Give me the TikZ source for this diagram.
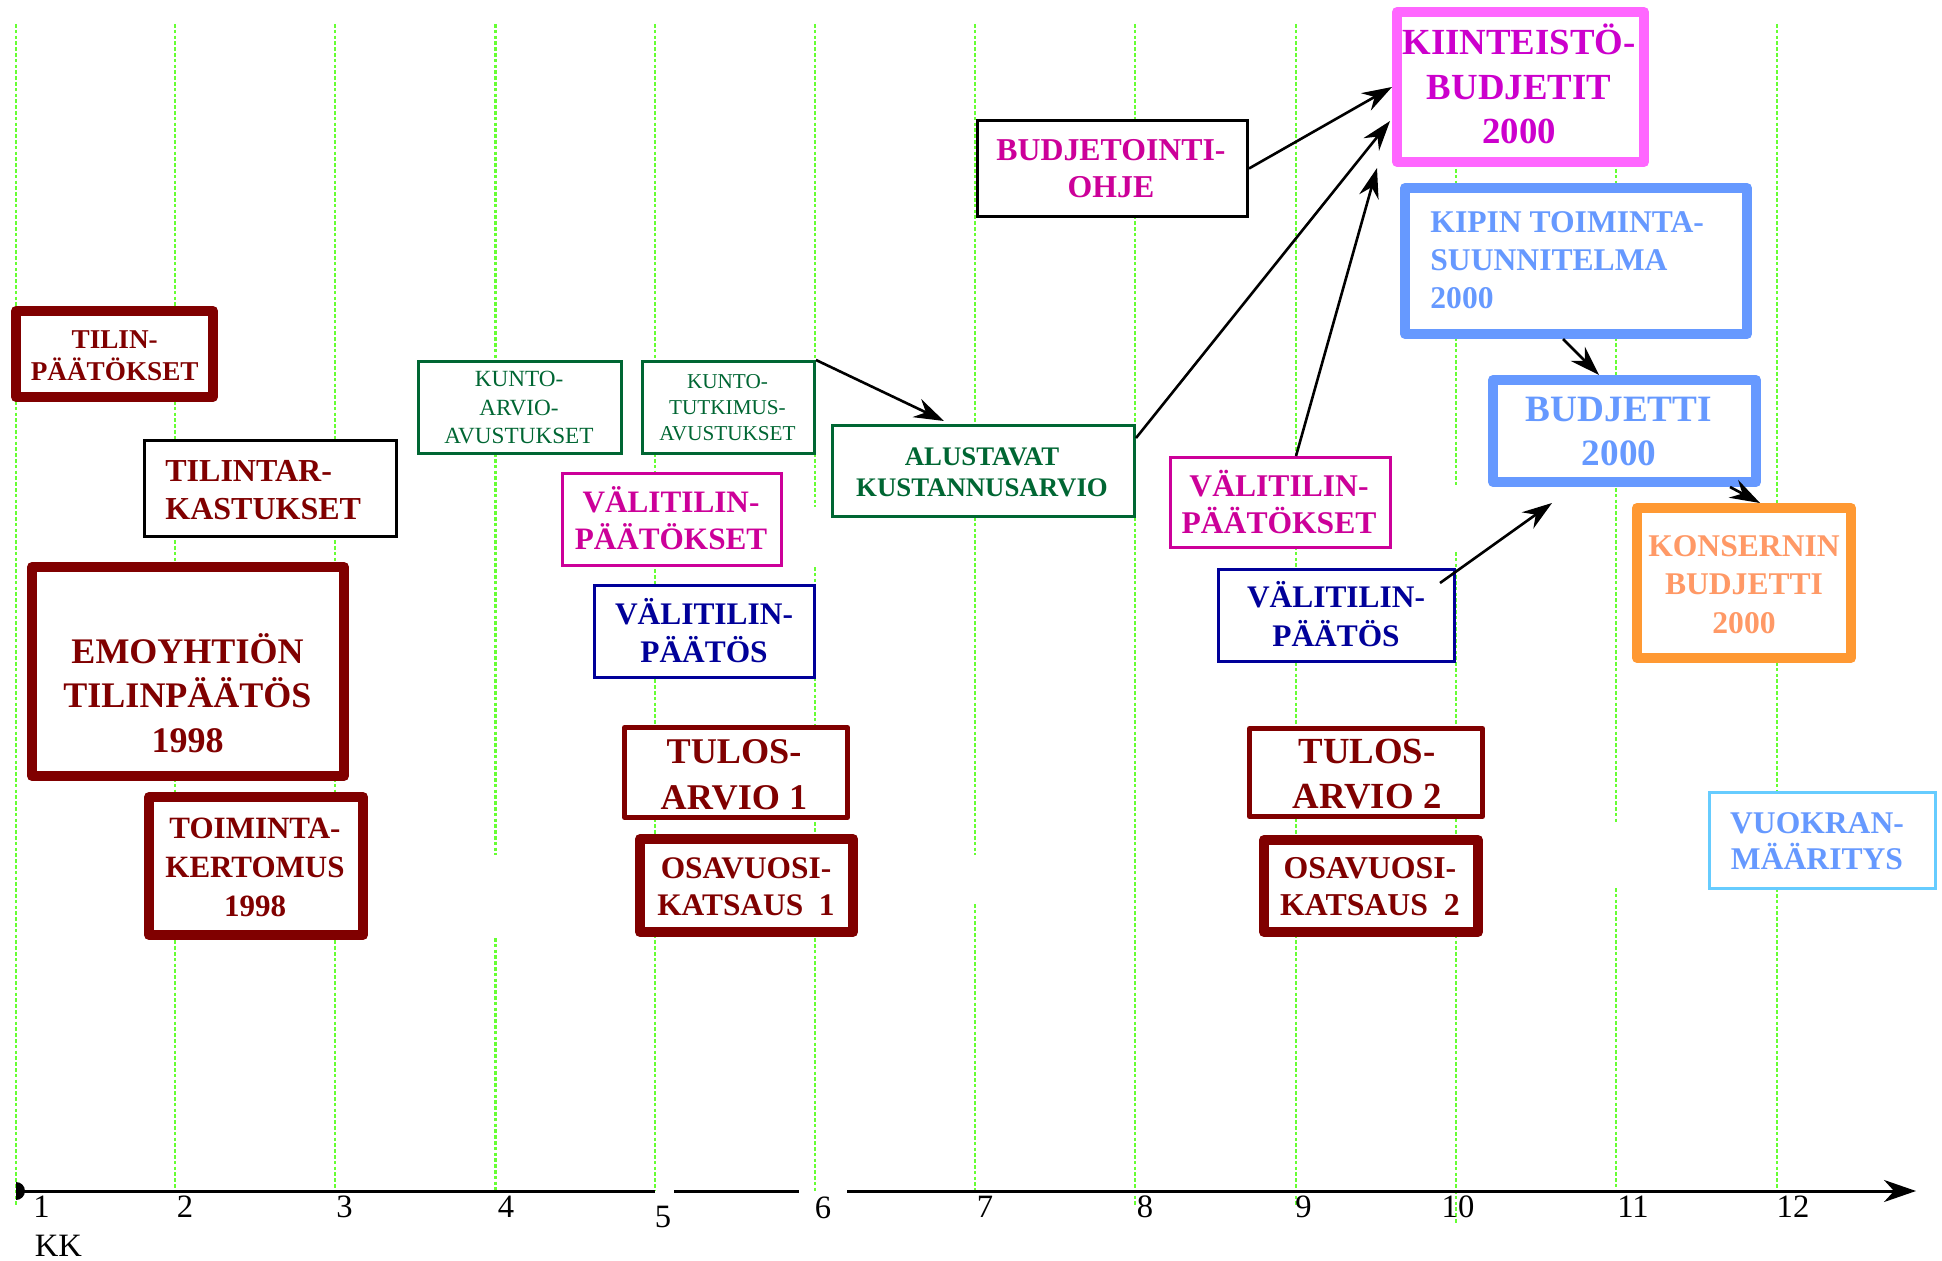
\documentclass[tikz,border=0pt]{standalone}
\usepackage{fontspec}
\setmainfont{Liberation Serif}
\usetikzlibrary{arrows.meta}

\definecolor{dred}{HTML}{800000}
\definecolor{kgreen}{HTML}{006633}
\definecolor{mag}{HTML}{CC0099}
\definecolor{navyb}{HTML}{000099}
\definecolor{pinkb}{HTML}{FF66FF}
\definecolor{pinkt}{HTML}{CC00CC}
\definecolor{blueb}{HTML}{6699FF}
\definecolor{orangeb}{HTML}{FF9933}
\definecolor{oranget}{HTML}{FF9966}
\definecolor{lblue}{HTML}{66CCFF}
\definecolor{gridg}{HTML}{66FF33}

\newcommand\fsz[2]{\fontsize{#1pt}{#2pt}\selectfont}

\begin{document}
\begin{tikzpicture}[x=0.5pt, y=-0.5pt,
  gridline/.style={draw=gridg, line width=1.2pt, dash pattern=on 1.8pt off 1.1pt},
  bx/.style={rectangle, fill=white, inner sep=0pt},
  thickbox/.style={bx, line width=5pt, line join=round},
  thinbox/.style={bx, line width=1.3pt},
  medbox/.style={bx, line width=2.5pt, line join=round},
  txt/.style={inner sep=0pt, align=center, anchor=base, font=\bfseries},
  ltxt/.style={inner sep=0pt, align=left, anchor=base west, font=\bfseries},
  num/.style={inner sep=0pt, anchor=base, font=\fsz{16.3}{18}},
  axisline/.style={line width=1.5pt, draw=black},
  arr/.style={draw=black, line width=1.3pt, -{Stealth[length=15pt, width=10pt, inset=5pt]}}
]
\useasboundingbox (0,0) rectangle (1942,1261);
\fill[white] (0,0) rectangle (1942,1261);

% month grid
\foreach \x/\b in {16/1207, 175/1191, 335/1191, 655/1191, 1135/1207, 1296/1207, 1777/1191}
  \draw[gridline] (\x,24) -- (\x,\b);
\draw[gridline] (495.5,24) -- (495.5,855);
\draw[gridline] (495.5,938) -- (495.5,1191);
\draw[gridline] (815,24) -- (815,507);
\draw[gridline] (815,567) -- (815,1191);
\draw[gridline] (975,24) -- (975,855);
\draw[gridline] (975,904) -- (975,1191);
\draw[gridline] (1456,24) -- (1456,485);
\draw[gridline] (1456,552) -- (1456,1223);
\draw[gridline] (1616,24) -- (1616,822);
\draw[gridline] (1616,888) -- (1616,1191);

% time axis
\fill (16,1182) arc[start angle=-90, end angle=90, radius=9] -- cycle;
\draw[axisline] (16,1191) -- (655,1191);
\draw[axisline] (674,1191) -- (799,1191);
\draw[axisline, -{Stealth[length=16pt, width=11pt, inset=5pt]}] (847,1191) -- (1916,1191);
\node[num] (m1) at (41.5,1217) {1};
\node[num] (m2) at (185,1217) {2};
\node[num] (m3) at (344.5,1217) {3};
\node[num] (m4) at (506,1217) {4};
\node[num] (m5) at (663,1227) {5};
\node[num] (m6) at (823,1218.5) {6};
\node[num] (m7) at (985,1217) {7};
\node[num] (m8) at (1145,1217) {8};
\node[num] (m9) at (1303.5,1217) {9};
\node[num] (m10) at (1458,1217) {10};
\node[num] (m11) at (1633,1217) {11};
\node[num] (m12) at (1793,1217) {12};
\node[num] (kk) at (58.5,1256.5) {KK};

% boxes
\node[thickbox, draw=dred, minimum width=98.5pt, minimum height=43pt] (tilin) at (114.5,354) {};
\node[thinbox, draw=black, minimum width=126.2pt, minimum height=48.2pt] (tilintar) at (270.5,488.5) {};
\node[thickbox, draw=dred, minimum width=156pt, minimum height=104.5pt] (emoy) at (188,671.5) {};
\node[thickbox, draw=dred, minimum width=107pt, minimum height=69pt] (toim) at (256,866) {};
\node[thinbox, draw=kgreen, minimum width=101.7pt, minimum height=46.2pt] (kuntoA) at (520,407.5) {};
\node[thinbox, draw=kgreen, minimum width=86.2pt, minimum height=46.2pt] (kuntoT) at (728.5,407.5) {};
\node[thinbox, draw=mag, minimum width=109.7pt, minimum height=46.2pt] (vpk1) at (672,519.5) {};
\node[thinbox, draw=navyb, minimum width=110.2pt, minimum height=46.2pt] (vp1) at (704.5,631.5) {};
\node[medbox, draw=dred, minimum width=111.5pt, minimum height=45pt] (tulos1) at (736,772.5) {};
\node[thickbox, draw=dred, minimum width=106.5pt, minimum height=46.5pt] (osa1) at (746.5,885.5) {};
\node[thinbox, draw=kgreen, minimum width=151.2pt, minimum height=45.7pt] (alu) at (983.5,471) {};
\node[thinbox, draw=black, minimum width=135.2pt, minimum height=48.2pt] (budohje) at (1112.5,168.5) {};
\node[thinbox, draw=mag, minimum width=110.2pt, minimum height=45.2pt] (vpk2) at (1280.5,502.5) {};
\node[thinbox, draw=navyb, minimum width=118.2pt, minimum height=46.2pt] (vp2) at (1336.5,615.5) {};
\node[medbox, draw=dred, minimum width=116.5pt, minimum height=44pt] (tulos2) at (1366,772.5) {};
\node[thickbox, draw=dred, minimum width=107pt, minimum height=46pt] (osa2) at (1371,886) {};
\node[thickbox, draw=pinkb, minimum width=123.5pt, minimum height=75pt] (kiint) at (1520.5,87) {};
\node[thickbox, draw=blueb, minimum width=171pt, minimum height=73pt] (kipin) at (1576,261) {};
\node[thickbox, draw=blueb, minimum width=131.5pt, minimum height=51pt] (budj) at (1624.5,431) {};
\node[thickbox, draw=orangeb, minimum width=107pt, minimum height=75pt] (kons) at (1744,583) {};
\node[thinbox, draw=lblue, minimum width=113.2pt, minimum height=48.2pt] (vuok) at (1822.5,840.5) {};

% box texts (placed by the baseline of their last line)
\node[txt, text=dred, font=\bfseries\fsz{13.6}{16}] (tilinT) at (114.7,380.3) {TILIN-\\PÄÄTÖKSET};
\node[ltxt, text=dred, font=\bfseries\fsz{16}{18.85}] (tilintarT) at (165,519.7) {TILINTAR-\\KASTUKSET};
\node[txt, text=dred, font=\bfseries\fsz{18}{22.25}] (emoyT) at (187.5,752) {EMOYHTIÖN\\TILINPÄÄTÖS\\1998};
\node[txt, text=dred, font=\bfseries\fsz{15.5}{19.5}] (toimT) at (255,916) {TOIMINTA-\\KERTOMUS\\1998};
\node[txt, text=kgreen, font=\mdseries\fsz{11.6}{14.25}] (kuntoAT) at (519,444) {KUNTO-\\ARVIO-\\AVUSTUKSET};
\node[txt, text=kgreen, font=\mdseries\fsz{10.6}{13}] (kuntoTT) at (727.5,441) {KUNTO-\\TUTKIMUS-\\AVUSTUKSET};
\node[txt, text=mag, font=\bfseries\fsz{15.6}{18.5}] (vpk1T) at (671,549) {VÄLITILIN-\\PÄÄTÖKSET};
\node[txt, text=navyb, font=\bfseries\fsz{15.7}{19}] (vp1T) at (704,662) {VÄLITILIN-\\PÄÄTÖS};
\node[txt, text=dred, font=\bfseries\fsz{18.1}{23}] (tulos1T) at (734,809) {TULOS-\\ARVIO 1};
\node[txt, text=dred, font=\bfseries\fsz{15.7}{18.5}] (osa1T) at (746,915) {OSAVUOSI-\\KATSAUS\ \ 1};
\node[txt, text=kgreen, font=\bfseries\fsz{13.4}{16}] (aluT) at (982,497) {ALUSTAVAT\\KUSTANNUSARVIO};
\node[txt, text=mag, font=\bfseries\fsz{15.9}{18.5}] (budohjeT) at (1111,198) {BUDJETOINTI-\\OHJE};
\node[txt, text=mag, font=\bfseries\fsz{15.8}{18.3}] (vpk2T) at (1279,533.6) {VÄLITILIN-\\PÄÄTÖKSET};
\node[txt, text=navyb, font=\bfseries\fsz{15.7}{19.5}] (vp2T) at (1336,646) {VÄLITILIN-\\PÄÄTÖS};
\node[txt, text=dred, font=\bfseries\fsz{18.4}{22.5}] (tulos2T) at (1367,808) {TULOS-\\ARVIO 2};
\node[txt, text=dred, font=\bfseries\fsz{15.9}{18.5}] (osa2T) at (1370,915) {OSAVUOSI-\\KATSAUS\ \ 2};
\node[txt, text=pinkt, font=\bfseries\fsz{18.4}{22.25}] (kiintT) at (1519,144) {KIINTEISTÖ-\\BUDJETIT\\2000};
\node[ltxt, text=blueb, font=\bfseries\fsz{15.8}{19}] (kipinT) at (1430,309) {KIPIN TOIMINTA-\\SUUNNITELMA\\2000};
\node[txt, text=blueb, font=\bfseries\fsz{18.6}{21.7}] (budjT) at (1619,465.4) {BUDJETTI\\2000};
\node[txt, text=oranget, font=\bfseries\fsz{15.8}{19.25}] (konsT) at (1744,633) {KONSERNIN\\BUDJETTI\\2000};
\node[txt, text=blueb, font=\bfseries\fsz{15.8}{18.3}] (vuokT) at (1817,869.6) {VUOKRAN-\\MÄÄRITYS};

% connectors
\draw[arr] (kuntoT.north east) -- ([xshift=56.5pt, yshift=1.5pt]alu.north west);
\draw[arr] (budohje.east) -- (kiint.west);
\draw[arr] ([yshift=-7pt]alu.north east) -- ([xshift=-1pt, yshift=-17pt]kiint.west);
\draw[arr] ([xshift=7.75pt]vpk2.north) -- ([xshift=-7.5pt, yshift=-0.5pt]kiint.south west);
\draw[arr] ([xshift=-8pt, yshift=-7.5pt]vp2.north east) -- ([xshift=32pt, yshift=-8pt]budj.south west);
\draw[arr] ([xshift=-6.5pt]kipin.south) -- ([xshift=-12.75pt]budj.north);
\draw[arr] ([xshift=-15.5pt]budj.south east) -- ([xshift=8pt]kons.north);
\end{tikzpicture}
\end{document}
